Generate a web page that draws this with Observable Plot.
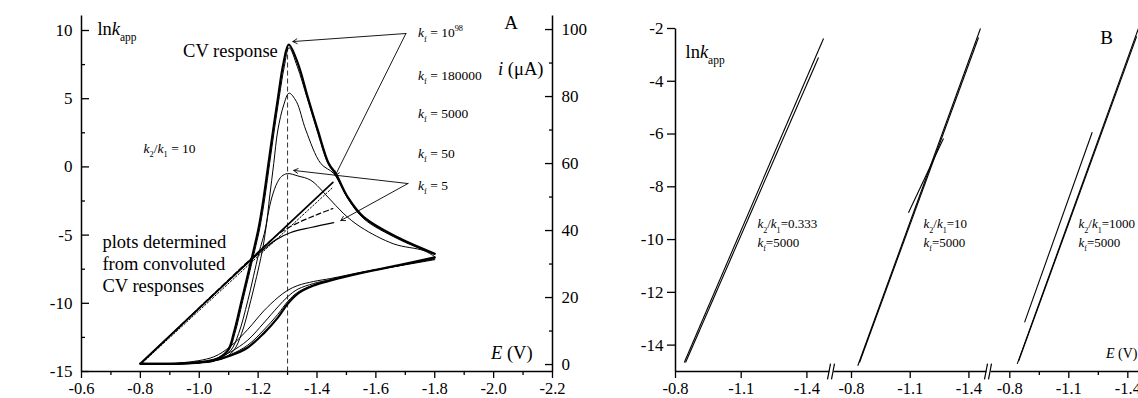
<!DOCTYPE html>
<html><head><meta charset="utf-8">
<script src="https://cdn.jsdelivr.net/npm/d3@7"></script>
<script src="https://cdn.jsdelivr.net/npm/@observablehq/plot@0.6"></script>
<style>
body{margin:0;background:#fff;}
#wrap{display:flex;width:1138px;height:398px;overflow:hidden;background:#fff;}
#wrap svg{display:block;flex:none;}
</style></head><body><div id="wrap"></div>
<script>
// ================= Panel A: axes =================
const aXDomain = [-0.6, -2.2];
const aYDomain = [-15, 11.1];           // ln k_app (left axis)
const aXTicks = [-0.6, -0.8, -1.0, -1.2, -1.4, -1.6, -1.8, -2.0, -2.2];
const aXTickLabels = ["-0.6", "-0.8", "-1.0", "-1.2", "-1.4", "-1.6", "-1.8", "-2.0", "-2.2"];
const aXMinor = [-0.7, -0.9, -1.1, -1.3, -1.5, -1.7, -1.9, -2.1];
const aLeftTicks = [-15, -10, -5, 0, 5, 10];
const aLeftTickLabels = ["-15", "-10", "-5", "0", "5", "10"];
const aLeftMinor = [-12.5, -7.5, -2.5, 2.5, 7.5];
const aRightTicks = [0, 20, 40, 60, 80, 100];   // i (µA)
const aRightTickLabels = ["0", "20", "40", "60", "80", "100"];
const aRightMinor = [10, 30, 50, 70, 90];
const currentAxisUA = [0, 100];          // right axis values ...
const currentAxisLnk = [-14.49, 10.07];  // ... aligned with these left-axis values

// ================= Panel A: CV responses (E in V, i in µA) =================
const cvThickFwdE = [-0.80,-0.94,-1.00,-1.049,-1.097,-1.117,-1.144,-1.182,-1.202,-1.219,-1.235,-1.251,-1.268,-1.285,-1.304,-1.335,-1.369,-1.403,-1.440,-1.464,-1.505,-1.559,-1.675,-1.80];
const cvThickFwdI = [0.2,0.3,0.6,1.2,4.2,9.3,19.1,33.1,40.9,49.9,60,70,80,89.5,95.5,89.9,79.7,69.9,60,57,49.9,44,37.9,33.1];
const cvThickRevE = [-1.80,-1.675,-1.559,-1.447,-1.389,-1.335,-1.301,-1.267,-1.219,-1.165,-1.107,-1.049,-0.937,-0.80];
const cvThickRevI = [32,29.6,27.5,25.1,23.6,21.2,18.2,14.0,9.3,5.1,2.7,1.2,0.3,0.3];

const cv180kFwdE = [-0.80,-0.94,-1.00,-1.055,-1.100,-1.121,-1.148,-1.186,-1.206,-1.223,-1.239,-1.255,-1.272,-1.289,-1.305,-1.333,-1.366,-1.400,-1.437,-1.462,-1.505,-1.559,-1.675,-1.80];
const cv180kFwdI = [0.2,0.3,0.6,1.4,4.2,9.3,19.1,33.1,40.9,49.9,60,70,80,89,94.6,89,79.7,69.9,60,56.7,49.6,43.8,37.7,33.0];
const cv180kRevE = [-1.80,-1.675,-1.559,-1.447,-1.389,-1.335,-1.301,-1.267,-1.219,-1.165,-1.107,-1.049,-0.937,-0.80];
const cv180kRevI = [31.7,29.5,27.5,25.2,23.8,21.6,18.9,15.0,10.3,5.8,3.0,1.3,0.3,0.3];

const cv5000FwdE = [-0.80,-0.94,-1.005,-1.066,-1.107,-1.134,-1.165,-1.202,-1.226,-1.239,-1.253,-1.267,-1.287,-1.305,-1.330,-1.362,-1.413,-1.457,-1.505,-1.559,-1.675,-1.80];
const cv5000FwdI = [0.2,0.3,0.6,1.8,4.2,9.3,19.1,33.1,41,50,60,70,77.5,81,78.5,70,60,57,49.5,43.5,37.5,32.8];
const cv5000RevE = [-1.80,-1.675,-1.559,-1.447,-1.389,-1.335,-1.301,-1.267,-1.219,-1.165,-1.107,-1.049,-0.937,-0.80];
const cv5000RevI = [31.5,29.5,27.6,25.4,24.2,22.5,20.3,17.2,12.4,7.3,3.8,1.6,0.4,0.3];

const cv5FwdE = [-0.80,-0.94,-1.005,-1.08,-1.117,-1.144,-1.175,-1.212,-1.222,-1.232,-1.247,-1.265,-1.280,-1.300,-1.335,-1.379,-1.437,-1.491,-1.549,-1.661,-1.763,-1.80];
const cv5FwdI = [0.2,0.3,0.6,1.8,4.2,9.3,19.1,33,38,44,50,54.3,56.2,57,56.3,55,50,45,41,36,34,32.2];
const cv5RevE = [-1.80,-1.675,-1.559,-1.447,-1.389,-1.335,-1.301,-1.267,-1.219,-1.165,-1.107,-1.049,-0.937,-0.80];
const cv5RevI = [31.3,29.4,27.7,25.7,24.8,23.6,22.2,20.0,16.0,10.5,5.5,2.3,0.5,0.3];

// ================= Panel A: ln k_app plots from convoluted CVs =================
const lnkSolidE = [-0.80, -1.454];
const lnkSolidV = [-14.4, -1.13];
const lnkDottedE = [-0.80, -1.454];
const lnkDottedV = [-14.5, -1.5];
const lnkDashedE = [-0.80, -1.24, -1.28, -1.34, -1.40, -1.454];
const lnkDashedV = [-14.45, -5.45, -4.75, -4.05, -3.5, -3.05];
const lnkThinE = [-0.80, -1.17, -1.219, -1.26, -1.311, -1.379, -1.457];
const lnkThinV = [-14.45, -6.95, -6.05, -5.35, -4.81, -4.44, -4.08];

const peakPotential = -1.30;
const peakCurrent = 95.5;

// arrows (from label to target), in E / ln k units
const arrowFromE = [-1.702, -1.702, -1.709, -1.709];
const arrowFromV = [9.78, 9.78, -1.22, -1.22];
const arrowToE = [-1.318, -1.462, -1.321, -1.481];
const arrowToV = [9.19, -0.63, -0.26, -3.93];

const kfLabels = ["*k*_f_ = 10^98^", "*k*_f_ = 180000", "*k*_f_ = 5000", "*k*_f_ = 50", "*k*_f_ = 5"];
const kfLabelV = [9.82, 6.70, 3.91, 0.98, -1.36];
const kfLabelE = -1.743;

// ================= Panel B =================
const bYDomain = [-15, -2];
const bYTicks = [-14, -12, -10, -8, -6, -4, -2];
const bYTickLabels = ["-14", "-12", "-10", "-8", "-6", "-4", "-2"];
const bXTicks = [-0.8, -1.1, -1.4];
const bXTickLabels = ["-0.8", "-1.1", "-1.4"];
const bXMinorLast = [-0.95, -1.25];
// broken axis: position of E=-0.8, units per volt, visible extent (axis units)
const bSegOrigin = [0, 176, 334.3];
const bSegPerV = [219, 195.7, 196.7];
const bSegFrom = [0, 158, 315];
const bSegTo = [154, 311, 463];

const bLineSeg = [0, 0, 1, 1, 1, 2, 2, 2];
const bLineE = [[-0.840,-1.476],[-0.846,-1.453],[-0.832,-1.459],[-0.841,-1.449],[-1.091,-1.270],[-0.838,-1.454],[-0.845,-1.445],[-0.875,-1.219]];
const bLineV = [[-14.66,-2.38],[-14.66,-3.10],[-14.78,-2.0],[-14.66,-2.34],[-8.98,-6.17],[-14.71,-2.0],[-14.6,-2.3],[-13.14,-5.93]];
const bRatios = ["0.333", "10", "1000"];
const bKf = ["5000", "5000", "5000"];
const bLabelE = [-1.174, -1.168, -1.149];
const bLabelV = [-9.42, -10.12];

// ================= helpers =================
const toLnk = i => currentAxisLnk[0] + (i - currentAxisUA[0]) * (currentAxisLnk[1] - currentAxisLnk[0]) / (currentAxisUA[1] - currentAxisUA[0]);
const uOf = (E, s) => bSegOrigin[s] + (-0.8 - E) * bSegPerV[s];
const serif = "'Liberation Serif', 'Times New Roman', Times, serif";

function richify(svg) {
  d3.select(svg).selectAll("text").each(function () {
    const t = this.textContent;
    if (!/[*_^]/.test(t)) return;
    const fs = parseFloat(getComputedStyle(this).fontSize) || 16;
    const sel = d3.select(this);
    sel.text(null);
    let it = false, mode = 0, cur = 0, buf = "";
    const flush = () => {
      if (!buf) return;
      const target = mode === 1 ? 0.32 * fs : mode === 2 ? -0.45 * fs : 0;
      const ts = sel.append("tspan").text(buf);
      if (it) ts.attr("font-style", "italic");
      if (mode) ts.attr("font-size", (0.62 * fs) + "px");
      if (target !== cur) ts.attr("dy", target - cur);
      cur = target; buf = "";
    };
    for (const ch of t) {
      if (ch === "*") { flush(); it = !it; }
      else if (ch === "_") { flush(); mode = mode === 1 ? 0 : 1; }
      else if (ch === "^") { flush(); mode = mode === 2 ? 0 : 2; }
      else buf += ch;
    }
    flush();
  });
}

// ================= build Panel A =================
function series(key, Es, Is, conv) { return Es.map((E, k) => ({key, E, v: conv ? toLnk(Is[k]) : Is[k]})); }
const cvThick = [...series("tf", cvThickFwdE, cvThickFwdI, true), ...series("tr", cvThickRevE, cvThickRevI, true)];
const cvThin = [
  ...series("af", cv180kFwdE, cv180kFwdI, true), ...series("ar", cv180kRevE, cv180kRevI, true),
  ...series("bf", cv5000FwdE, cv5000FwdI, true), ...series("br", cv5000RevE, cv5000RevI, true),
  ...series("cf", cv5FwdE, cv5FwdI, true), ...series("cr", cv5RevE, cv5RevI, true)
];
const aLeftMap = new Map(aLeftTicks.map((d, k) => [d, aLeftTickLabels[k]]));
const aRightPos = aRightTicks.map(toLnk);
const aRightMap = new Map(aRightPos.map((d, k) => [d, aRightTickLabels[k]]));
const aXMap = new Map(aXTicks.map((d, k) => [d, aXTickLabels[k]]));
const aFrame = [
  {x1: aXDomain[0], y1: aYDomain[0], x2: aXDomain[1], y2: aYDomain[0]},
  {x1: aXDomain[0], y1: aYDomain[0], x2: aXDomain[0], y2: aYDomain[1]},
  {x1: aXDomain[1], y1: aYDomain[0], x2: aXDomain[1], y2: aYDomain[1]}
];
const arrows = arrowFromE.map((e, k) => ({x1: e, y1: arrowFromV[k], x2: arrowToE[k], y2: arrowToV[k]}));
const kfRows = kfLabels.map((t, k) => ({t, E: kfLabelE, v: kfLabelV[k]}));

const plotA = Plot.plot({
  width: 600, height: 398,
  marginLeft: 81, marginRight: 48, marginTop: 15, marginBottom: 27,
  x: {domain: aXDomain}, y: {domain: aYDomain},
  style: {fontFamily: serif, fontSize: "17px", color: "black", background: "white", overflow: "visible"},
  marks: [
    Plot.link(aFrame, {x1: "x1", y1: "y1", x2: "x2", y2: "y2", strokeWidth: 1.5}),
    Plot.axisX(aXTicks, {anchor: "bottom", tickSize: 7, tickPadding: 4, fontSize: 16.5, strokeWidth: 1.3, tickFormat: d => aXMap.get(d)}),
    Plot.axisX(aXMinor, {anchor: "bottom", tickSize: 4, strokeWidth: 1.3, fill: "none"}),
    Plot.axisY(aLeftTicks, {anchor: "left", tickSize: 0, tickPadding: 9, tickFormat: d => aLeftMap.get(d)}),
    Plot.axisY(aLeftTicks, {anchor: "left", tickSize: 8, dx: 8, strokeWidth: 1.3, fill: "none"}),
    Plot.axisY(aLeftMinor, {anchor: "left", tickSize: 4, dx: 4, strokeWidth: 1.3, fill: "none"}),
    Plot.axisY(aRightPos, {anchor: "right", tickSize: 0, tickPadding: 9, tickFormat: d => aRightMap.get(d)}),
    Plot.axisY(aRightPos, {anchor: "right", tickSize: 8, dx: -8, strokeWidth: 1.3, fill: "none"}),
    Plot.axisY(aRightMinor.map(toLnk), {anchor: "right", tickSize: 4, dx: -4, strokeWidth: 1.3, fill: "none"}),
    Plot.link([{x: peakPotential, y1: aYDomain[0], y2: toLnk(peakCurrent)}], {x1: "x", x2: "x", y1: "y1", y2: "y2", strokeDasharray: "5,3", strokeWidth: 1, stroke: "#333"}),
    Plot.line(cvThin, {x: "E", y: "v", z: "key", curve: "catmull-rom", strokeWidth: 1}),
    Plot.line(cvThick, {x: "E", y: "v", z: "key", curve: "catmull-rom", strokeWidth: 2.2}),
    Plot.line(lnkSolidE.map((E, k) => ({E, v: lnkSolidV[k]})), {x: "E", y: "v", strokeWidth: 1.7}),
    Plot.line(lnkDottedE.map((E, k) => ({E, v: lnkDottedV[k]})), {x: "E", y: "v", strokeWidth: 1, strokeDasharray: "1.5,2"}),
    Plot.line(lnkDashedE.map((E, k) => ({E, v: lnkDashedV[k]})), {x: "E", y: "v", curve: "catmull-rom", strokeWidth: 1.2, strokeDasharray: "5,3"}),
    Plot.line(lnkThinE.map((E, k) => ({E, v: lnkThinV[k]})), {x: "E", y: "v", curve: "catmull-rom", strokeWidth: 1.2}),
    Plot.arrow(arrows, {x1: "x1", y1: "y1", x2: "x2", y2: "y2", strokeWidth: 0.9, headLength: 8}),
    Plot.text(kfRows, {x: "E", y: "v", text: "t", textAnchor: "start", fontSize: 13.5}),
    Plot.text(["ln*k*_app_"], {x: -0.654, y: 10.07, textAnchor: "start", fontSize: 18.5}),
    Plot.text(["CV response"], {x: -1.267, y: 8.46, textAnchor: "end", fontSize: 18.5}),
    Plot.text(["*k*_2_/*k*_1_ = 10"], {x: -0.811, y: 1.35, textAnchor: "start", fontSize: 13.5}),
    Plot.text(["plots determined\nfrom convoluted\nCV responses"], {x: -0.671, y: -7.01, textAnchor: "start", fontSize: 18.5, lineHeight: 1.19}),
    Plot.text(["A"], {x: -2.059, y: 10.59, fontSize: 19}),
    Plot.text(["*i* (μA)"], {x: -2.015, y: 7.14, textAnchor: "start", fontSize: 18.5}),
    Plot.text(["*E* (V)"], {x: -1.991, y: -13.68, textAnchor: "start", fontSize: 18.5})
  ]
});

// ================= build Panel B =================
const bXPos = [], bXLab = new Map(), bXMinorPos = [];
for (let s = 0; s < 3; s++) bXTicks.forEach((E, k) => { const u = uOf(E, s); bXPos.push(u); bXLab.set(u, bXTickLabels[k]); });
bXMinorLast.forEach(E => bXMinorPos.push(uOf(E, 2)));
const bYMap = new Map(bYTicks.map((d, k) => [d, bYTickLabels[k]]));
const bAxisLines = [{x1: 0, y1: bYDomain[0], x2: 0, y2: bYDomain[1]},
  ...bSegFrom.map((f, s) => ({x1: f, y1: bYDomain[0], x2: bSegTo[s], y2: bYDomain[0]}))];
const bBreaks = [];
for (let s = 0; s < 2; s++) {
  const c = (bSegTo[s] + bSegFrom[s + 1]) / 2;
  bBreaks.push({x1: c - 4, y1: bYDomain[0] - 0.3, x2: c - 1, y2: bYDomain[0] + 0.3});
  bBreaks.push({x1: c, y1: bYDomain[0] - 0.3, x2: c + 3, y2: bYDomain[0] + 0.3});
}
const bLines = bLineE.map((e, k) => ({x1: uOf(e[0], bLineSeg[k]), y1: bLineV[k][0], x2: uOf(e[1], bLineSeg[k]), y2: bLineV[k][1]}));
const bLabels = [];
bRatios.forEach((r, s) => {
  bLabels.push({t: `*k*_2_/*k*_1_=${r}`, u: uOf(bLabelE[s], s), v: bLabelV[0]});
  bLabels.push({t: `*k*_f_=${bKf[s]}`, u: uOf(bLabelE[s], s), v: bLabelV[1]});
});

const plotB = Plot.plot({
  width: 538, height: 398,
  marginLeft: 75, marginRight: 0, marginTop: 28, marginBottom: 27,
  x: {type: "linear", domain: [0, 463]}, y: {domain: bYDomain},
  style: {fontFamily: serif, fontSize: "17px", color: "black", background: "white", overflow: "visible"},
  marks: [
    Plot.link(bAxisLines, {x1: "x1", y1: "y1", x2: "x2", y2: "y2", strokeWidth: 1.5}),
    Plot.link(bBreaks, {x1: "x1", y1: "y1", x2: "x2", y2: "y2", strokeWidth: 1.2}),
    Plot.axisX(bXPos, {anchor: "bottom", tickSize: 7, tickPadding: 4, fontSize: 16.5, strokeWidth: 1.3, tickFormat: d => bXLab.get(d)}),
    Plot.axisX(bXMinorPos, {anchor: "bottom", tickSize: 4, strokeWidth: 1.3, fill: "none"}),
    Plot.axisY(bYTicks, {anchor: "left", tickSize: 8, tickPadding: 4, strokeWidth: 1.3, tickFormat: d => bYMap.get(d)}),
    Plot.link(bLines, {x1: "x1", y1: "y1", x2: "x2", y2: "y2", strokeWidth: 1.1}),
    Plot.text(bLabels, {x: "u", y: "v", text: "t", textAnchor: "start", fontSize: 13}),
    Plot.text(["ln*k*_app_"], {x: 10, y: -2.91, textAnchor: "start", fontSize: 18.5}),
    Plot.text(["B"], {x: 431, y: -2.34, fontSize: 19}),
    Plot.text(["*E* (V)"], {x: 462, y: -14.32, textAnchor: "end", fontSize: 14})
  ]
});

const wrap = document.getElementById("wrap");
wrap.appendChild(plotA);
wrap.appendChild(plotB);
richify(plotA);
richify(plotB);
</script>
</body></html>
